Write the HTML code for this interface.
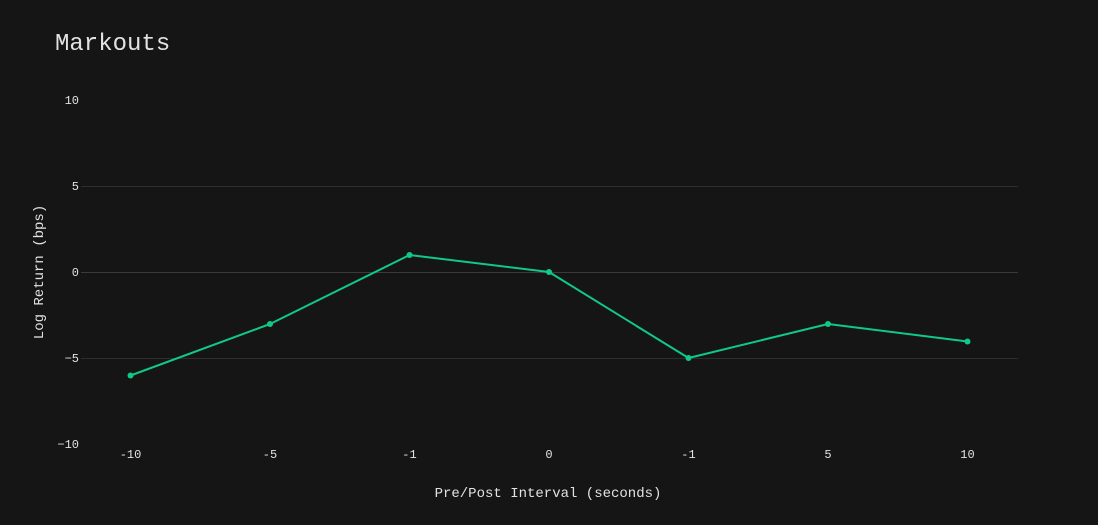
<!DOCTYPE html>
<html><head><meta charset="utf-8"><style>
html,body{margin:0;padding:0;background:#151515;}
body{width:1098px;height:525px;overflow:hidden;}
svg{display:block;}
text{font-family:"Liberation Mono","DejaVu Sans Mono",monospace;fill:#e2e2e2;}
</style></head><body>
<svg width="1098" height="525" viewBox="0 0 1098 525" xmlns="http://www.w3.org/2000/svg">
<rect width="1098" height="525" fill="#151515"/>
<text x="55" y="50" font-size="24">Markouts</text>
<g stroke="#2e2e2e" stroke-width="1">
<line x1="81" y1="186.5" x2="1018" y2="186.5"/>
<line x1="81" y1="272.5" x2="1018" y2="272.5" stroke="#3a3a3a"/>
<line x1="81" y1="358.5" x2="1018" y2="358.5"/>
</g>
<g font-size="12" text-anchor="end">
<text x="79" y="104">10</text>
<text x="79" y="190">5</text>
<text x="79" y="276">0</text>
<text x="79" y="362">−5</text>
<text x="79" y="448">−10</text>
</g>
<g font-size="12" text-anchor="middle">
<text x="130.5" y="458">-10</text>
<text x="270" y="458">-5</text>
<text x="409.5" y="458">-1</text>
<text x="549" y="458">0</text>
<text x="688.5" y="458">-1</text>
<text x="828" y="458">5</text>
<text x="967.5" y="458">10</text>
</g>
<text x="548" y="497" font-size="14" text-anchor="middle">Pre/Post Interval (seconds)</text>
<text transform="translate(43,272) rotate(-90)" font-size="14" text-anchor="middle">Log Return (bps)</text>
<polyline fill="none" stroke="#10c986" stroke-width="2" stroke-linejoin="round"
points="130.5,375.5 270,324 409.5,255 549,272 688.5,358 828,324 967.5,341.5"/>
<g fill="#10c986">
<circle cx="130.5" cy="375.5" r="3"/>
<circle cx="270" cy="324" r="3"/>
<circle cx="409.5" cy="255" r="3"/>
<circle cx="549" cy="272" r="3"/>
<circle cx="688.5" cy="358" r="3"/>
<circle cx="828" cy="324" r="3"/>
<circle cx="967.5" cy="341.5" r="3"/>
</g>
</svg>
</body></html>
